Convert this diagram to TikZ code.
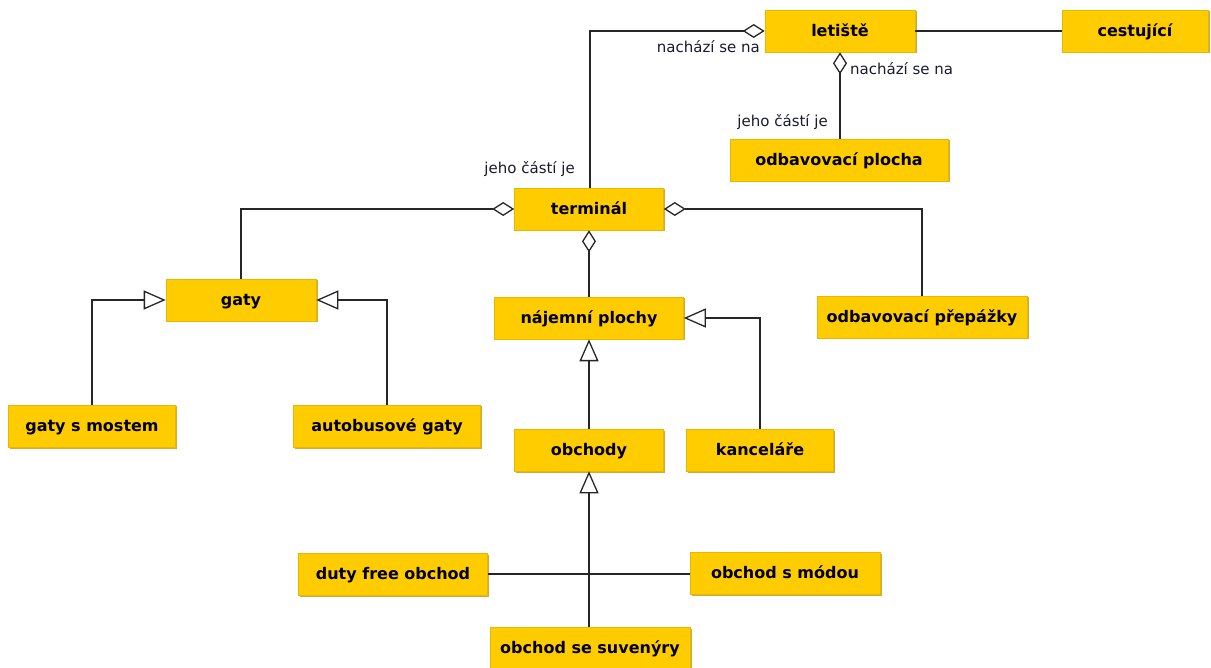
\documentclass[tikz,border=0pt]{standalone}
\usepackage{fontspec}
\setmainfont{DejaVu Sans}
\usetikzlibrary{arrows.meta,shadows}
\definecolor{boxfill}{HTML}{FFCC00}
\definecolor{boxedge}{HTML}{E6B800}
\definecolor{boxshadow}{HTML}{C9A227}
\definecolor{lbl}{HTML}{1A1A2E}
\tikzset{
  cls/.style={fill=boxfill, draw=boxedge, line width=0.6pt, minimum height=42pt,
    font=\fontsize{16}{18}\selectfont\bfseries, text=black, inner sep=0pt,
    text height=12.5pt, text depth=1.5pt,
    drop shadow={shadow xshift=1.5pt, shadow yshift=-1.5pt, fill=boxshadow, opacity=0.9}},
  conn/.style={draw=black!85, line width=1.3pt},
  agg/.style={conn, {Diamond[open, length=22pt, width=14pt, line width=1.3pt]}-},
  gen/.style={conn, -{Triangle[open, length=22pt, width=19pt, line width=1.3pt]}},
  lab/.style={font=\fontsize{15}{17}\selectfont, text=lbl, inner sep=0pt},
}
\begin{document}
\begin{tikzpicture}[x=1pt,y=-1pt]
\useasboundingbox (0,0) rectangle (1211,668);
% nodes
\node[cls, minimum width=150pt] (letiste) at (840,31) {letiště};
\node[cls, minimum width=146pt] (cest) at (1135,31) {cestující};
\node[cls, minimum width=218pt] (oplocha) at (839,160) {odbavovací plocha};
\node[cls, minimum width=149pt] (term) at (589,209) {terminál};
\node[cls, minimum width=150pt] (gaty) at (241,300) {gaty};
\node[cls, minimum width=189pt] (najem) at (589,318) {nájemní plochy};
\node[cls, minimum width=210pt] (prep) at (922,317) {odbavovací přepážky};
\node[cls, minimum width=167pt] (most) at (92,426) {gaty s mostem};
\node[cls, minimum width=187pt] (bus) at (387,426) {autobusové gaty};
\node[cls, minimum width=149pt] (obch) at (589,450) {obchody};
\node[cls, minimum width=147pt] (kanc) at (760,450) {kanceláře};
\node[cls, minimum width=189pt] (duty) at (393,574) {duty free obchod};
\node[cls, minimum width=190pt] (moda) at (785,573) {obchod s módou};
\node[cls, minimum width=200pt] (suv) at (590,648) {obchod se suvenýry};
% connectors
\coordinate (c1) at (590,31);
\draw[agg] (letiste.west) -- (c1) -- (c1 |- term.north);
\draw[agg] (letiste.south) -- (letiste.south |- oplocha.north);
\draw[conn] (letiste.east) -- (cest.west);
\coordinate (c2) at (241,209);
\draw[agg] (term.west) -- (c2) -- (gaty.north);
\coordinate (c3) at (922,209);
\draw[agg] (term.east) -- (c3) -- (prep.north);
\draw[agg] (term.south) -- (term.south |- najem.north);
\coordinate (c4) at (92,300);
\draw[gen] (most.north) -- (c4) -- (gaty.west);
\coordinate (c5) at (387,300);
\draw[gen] (bus.north) -- (c5) -- (gaty.east);
\coordinate (c6) at (760,318);
\draw[gen] (kanc.north) -- (c6) -- (najem.east);
\draw[gen] (obch.north) -- (obch.north |- najem.south);
\draw[gen] (obch.south |- suv.north) -- (obch.south);
\draw[conn] (duty.east) -- (moda.west |- duty.east);
% labels
\node[lab, anchor=base east] (l1) at (760,53) {nachází se na};
\node[lab, anchor=base west] (l2) at (850,75) {nachází se na};
\node[lab, anchor=base east] (l3) at (828,127) {jeho částí je};
\node[lab, anchor=base east] (l4) at (575,174) {jeho částí je};
\end{tikzpicture}
\end{document}
